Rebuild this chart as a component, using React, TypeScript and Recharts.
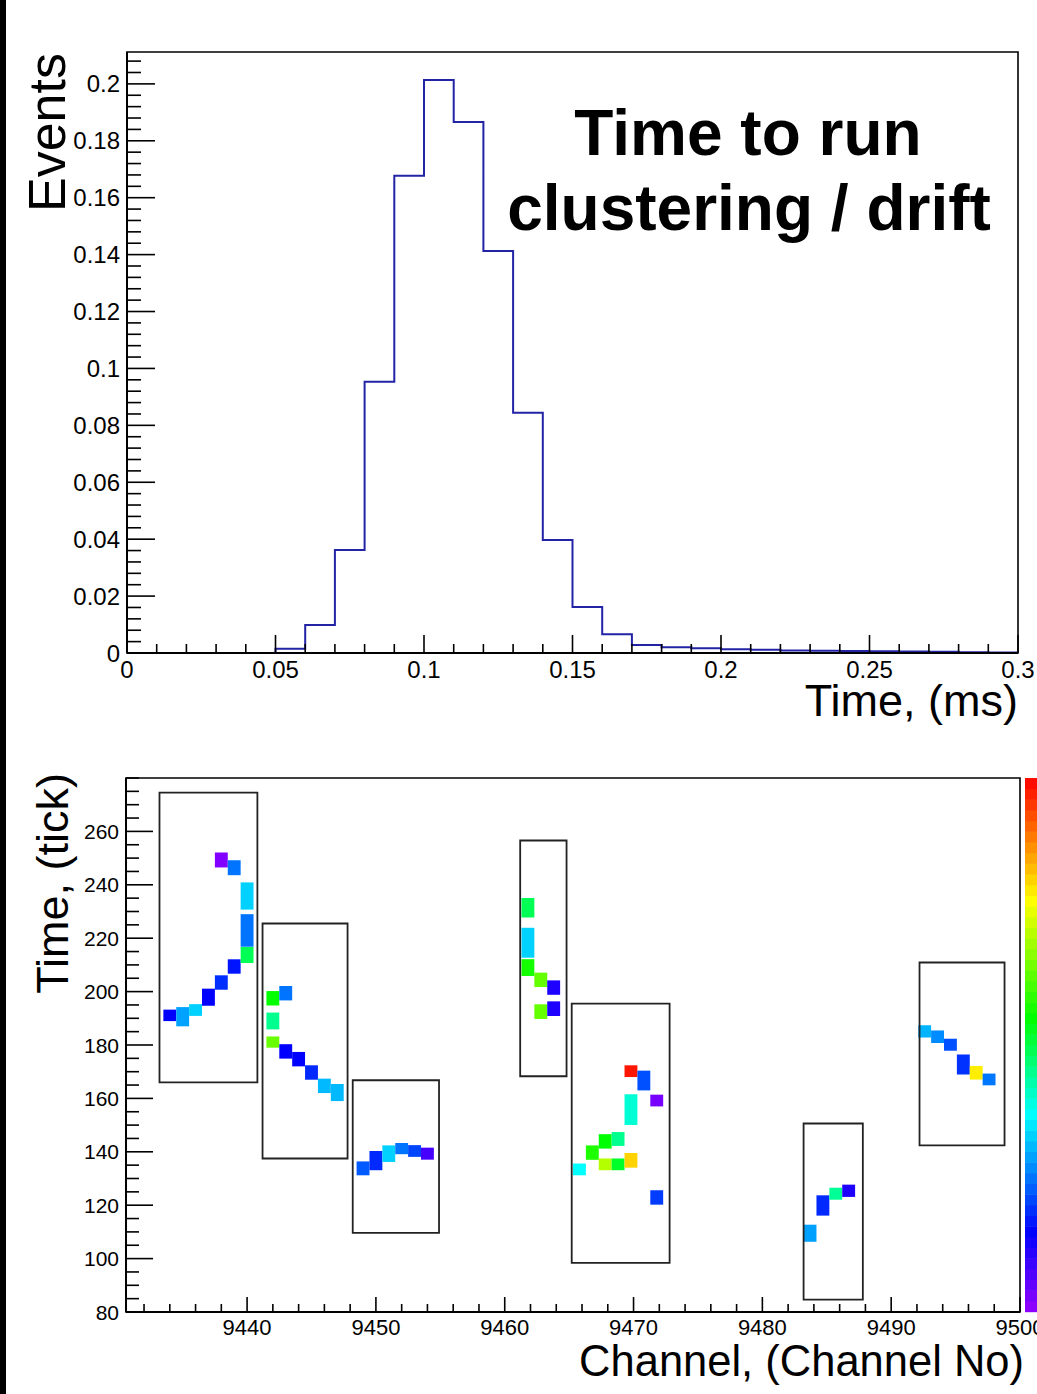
import React from 'react'
import { ComposedChart, ScatterChart, Line, Scatter, XAxis, YAxis, ReferenceArea } from 'recharts'

const FONT = '"Liberation Sans", Arial, Helvetica, sans-serif'

// ---- top panel: time to run clustering / drift (fraction of events per 0.01 ms bin)
const binWidthMs = 0.01
const eventFraction = [
  0, 0, 0, 0, 0,
  0.0015, 0.0098, 0.0362, 0.0953, 0.1677,
  0.2014, 0.1866, 0.1413, 0.0844, 0.0397,
  0.0162, 0.0066, 0.0028, 0.0020, 0.0017,
  0.0013, 0.0011, 0.0009, 0.0008, 0.0007,
  0.0006, 0.0005, 0.0004, 0.0003, 0.0002,
]
const timeMsMajor = [0, 0.05, 0.1, 0.15, 0.2, 0.25, 0.3]
const eventsMajor = [0, 0.02, 0.04, 0.06, 0.08, 0.1, 0.12, 0.14, 0.16, 0.18, 0.2]

// ---- bottom panel: hits [channel, time tick, time extent, charge (0..1 of palette)]
const cluster1 = [
  [9434, 191.1, 4.3, 0.15], [9435, 190.6, 7.2, 0.29], [9436, 193.1, 4.4, 0.33],
  [9437, 197.9, 6.4, 0.15], [9438, 203.4, 5.4, 0.19], [9439, 209.4, 5.4, 0.167],
  [9440, 213.7, 6.0, 0.49], [9440, 222.9, 12.2, 0.25], [9440, 235.8, 10.2, 0.33],
  [9438, 249.3, 5.6, 0.02], [9439, 246.4, 5.6, 0.25],
]
const cluster2 = [
  [9442, 197.5, 5.4, 0.55], [9443, 199.4, 5.4, 0.25], [9442, 189.0, 6.3, 0.45],
  [9442, 181.1, 4.2, 0.64], [9443, 177.6, 5.4, 0.15], [9444, 174.7, 5.4, 0.15],
  [9445, 169.7, 5.4, 0.185], [9446, 164.7, 5.4, 0.31], [9447, 162.2, 6.4, 0.31],
]
const cluster3 = [
  [9449, 133.8, 5.2, 0.228], [9450, 136.7, 7.2, 0.185], [9451, 139.3, 6.2, 0.33],
  [9452, 141.2, 4.2, 0.25], [9453, 140.3, 4.4, 0.21], [9454, 139.3, 4.5, 0.08],
]
const cluster4 = [
  [9461.8, 231.4, 7.3, 0.49], [9461.8, 218.3, 11.2, 0.33], [9461.8, 209.0, 6.3, 0.567],
  [9462.8, 204.4, 5.4, 0.636], [9463.8, 201.5, 5.4, 0.12], [9462.8, 192.5, 5.5, 0.636],
  [9463.8, 193.6, 5.5, 0.12],
]
const cluster5 = [
  [9465.8, 133.4, 4.4, 0.37], [9466.8, 139.7, 5.4, 0.576], [9467.8, 143.9, 5.4, 0.55],
  [9468.8, 144.8, 5.2, 0.45], [9467.8, 135.3, 4.4, 0.705], [9468.8, 135.3, 4.4, 0.522],
  [9469.8, 136.8, 5.5, 0.81], [9469.8, 155.8, 11.5, 0.40], [9469.8, 170.2, 4.4, 0.98],
  [9470.8, 166.7, 7.4, 0.219], [9471.8, 159.2, 4.4, 0.03], [9471.8, 122.9, 5.4, 0.202],
]
const cluster6 = [
  [9483.7, 109.5, 6.4, 0.288], [9484.7, 119.9, 7.6, 0.185], [9485.7, 124.3, 4.5, 0.444],
  [9486.7, 125.4, 4.6, 0.12],
]
const cluster7 = [
  [9492.6, 185.1, 4.6, 0.305], [9493.6, 183.1, 4.7, 0.271], [9494.6, 180.1, 4.5, 0.219],
  [9495.6, 172.7, 7.5, 0.193], [9496.6, 169.6, 5.1, 0.785], [9497.6, 167.1, 4.4, 0.253],
]
// cluster boxes [ch from, ch to, tick from, tick to]
const clusterBoxes = [
  [9433.2, 9440.8, 166.0, 274.5],
  [9441.2, 9447.8, 137.5, 225.5],
  [9448.2, 9454.9, 109.6, 166.8],
  [9461.2, 9464.8, 168.3, 256.6],
  [9465.2, 9472.8, 98.4, 195.5],
  [9483.2, 9487.8, 84.6, 150.6],
  [9492.2, 9498.8, 142.4, 210.9],
]
const channelMajor = [9440, 9450, 9460, 9470, 9480, 9490, 9500]
const tickMajor = [80, 100, 120, 140, 160, 180, 200, 220, 240, 260]

const allHits = [...cluster1, ...cluster2, ...cluster3, ...cluster4, ...cluster5, ...cluster6, ...cluster7]
const hitData = allHits.map(([ch, t, h, q]) => ({ ch, t, h, q }))
const histData = [
  ...eventFraction.map((v, i) => ({ t: +(i * binWidthMs).toFixed(3), v })),
  { t: 0.3, v: eventFraction[eventFraction.length - 1] },
]

// palette: purple -> blue -> cyan -> green -> yellow -> red
const stops: [number, number, number, number][] = [
  [0, 150, 0, 255], [0.15, 0, 0, 255], [0.37, 0, 255, 255],
  [0.55, 0, 255, 0], [0.77, 255, 255, 0], [1, 255, 0, 0],
]
function paletteColor(q: number) {
  const v = Math.max(0, Math.min(1, q))
  for (let i = 1; i < stops.length; i++) {
    if (v <= stops[i][0]) {
      const a = stops[i - 1], b = stops[i]
      const f = (v - a[0]) / (b[0] - a[0])
      const c = [1, 2, 3].map(k => Math.round(a[k] + (b[k] - a[k]) * f))
      return `rgb(${c[0]},${c[1]},${c[2]})`
    }
  }
  return 'rgb(255,0,0)'
}

function range(a: number, b: number, s: number) {
  const out: number[] = []
  for (let v = a; v <= b + s * 1e-6; v += s) out.push(+v.toFixed(4))
  return out
}
const isIn = (list: number[], v: number) => list.some(m => Math.abs(m - v) < 1e-6)
const fmt = (v: number) => String(+v.toFixed(4))

// ROOT style ticks: drawn inward, labels outside
function yTick(left: number, majors: number[], majLen: number, minLen: number, fontSize: number) {
  return (props: any) => {
    const { y, payload } = props
    const major = isIn(majors, payload.value)
    return (
      <g>
        <line x1={left} x2={left + (major ? majLen : minLen)} y1={y} y2={y} stroke="#000" strokeWidth={1.6} />
        {major && (
          <text x={left - 7} y={y} textAnchor="end" dominantBaseline="central" fontSize={fontSize} fontFamily={FONT} fill="#000">
            {fmt(payload.value)}
          </text>
        )}
      </g>
    )
  }
}
function xTick(bottom: number, majors: number[], majLen: number, minLen: number, fontSize: number, dy: number) {
  return (props: any) => {
    const { x, payload } = props
    const major = isIn(majors, payload.value)
    return (
      <g>
        <line x1={x} x2={x} y1={bottom} y2={bottom - (major ? majLen : minLen)} stroke="#000" strokeWidth={1.6} />
        {major && (
          <text x={x} y={bottom + dy} textAnchor="middle" fontSize={fontSize} fontFamily={FONT} fill="#000">
            {fmt(payload.value)}
          </text>
        )}
      </g>
    )
  }
}

const EV_MAX = 0.2112
const CH_MIN = 9430.6
const CH_MAX = 9500

export default function App() {
  const bands = range(0, 49, 1)
  const cbTop = 778, cbBottom = 1311.7
  const bandH = (cbBottom - cbTop) / bands.length
  return (
    <div style={{ position: 'absolute', left: 0, top: 0, width: 1037, height: 1394, background: '#fff', fontFamily: FONT, overflow: 'hidden' }}>
      <div style={{ position: 'absolute', left: 0, top: 0 }}>
        <ComposedChart width={1037} height={740} data={histData} margin={{ top: 52, right: 19, bottom: 0, left: 0 }}>
          <XAxis dataKey="t" type="number" domain={[0, 0.3]} allowDataOverflow ticks={range(0, 0.3, 0.01)} interval={0}
            tickLine={false} axisLine={{ stroke: '#000', strokeWidth: 2 }} height={87}
            tick={xTick(653, timeMsMajor, 18, 9, 24, 25)} />
          <YAxis type="number" domain={[0, EV_MAX]} allowDataOverflow ticks={range(0, 0.208, 0.004)} interval={0}
            tickLine={false} axisLine={{ stroke: '#000', strokeWidth: 2 }} width={127}
            tick={yTick(127, eventsMajor, 28, 14, 24)} />
          <ReferenceArea x1={0} x2={0.3} y1={0} y2={EV_MAX} fill="none" stroke="#000" strokeWidth={1.6} ifOverflow="visible" />
          <Line type="stepAfter" dataKey="v" stroke="#2323a6" strokeWidth={2} dot={false} isAnimationActive={false} />
        </ComposedChart>
      </div>
      <div style={{ position: 'absolute', left: 0, top: 740 }}>
        <ScatterChart width={1037} height={654} margin={{ top: 38, right: 17, bottom: 0, left: 0 }}>
          <XAxis dataKey="ch" type="number" domain={[CH_MIN, CH_MAX]} allowDataOverflow ticks={range(9432, 9500, 2)} interval={0}
            tickLine={false} axisLine={{ stroke: '#000', strokeWidth: 2 }} height={82}
            tick={xTick(572, channelMajor, 15, 8, 22, 23)} />
          <YAxis dataKey="t" type="number" domain={[80, 280]} allowDataOverflow ticks={range(80, 280, 5)} interval={0}
            tickLine={false} axisLine={{ stroke: '#000', strokeWidth: 2 }} width={126}
            tick={yTick(126, tickMajor, 27, 13, 21)} />
          {hitData.map((d, i) => (
            <ReferenceArea key={`hit-${i}`} x1={d.ch - 0.5} x2={d.ch + 0.5} y1={d.t - d.h / 2} y2={d.t + d.h / 2}
              fill={paletteColor(d.q)} fillOpacity={1} stroke="none" ifOverflow="visible" />
          ))}
          {clusterBoxes.map((b, i) => (
            <ReferenceArea key={`box-${i}`} x1={b[0]} x2={b[1]} y1={b[2]} y2={b[3]}
              fill="none" stroke="#222" strokeWidth={1.8} ifOverflow="visible" />
          ))}
          <ReferenceArea x1={CH_MIN} x2={CH_MAX} y1={80} y2={280} fill="none" stroke="#000" strokeWidth={1.6} ifOverflow="visible" />
          <Scatter data={hitData} dataKey="t" isAnimationActive={false} shape={() => <g />} />
        </ScatterChart>
      </div>
      <svg width={1037} height={1394} style={{ position: 'absolute', left: 0, top: 0, pointerEvents: 'none' }}>
        <rect x={0} y={0} width={6} height={1394} fill="#000" />
        <text x={748} y={155} textAnchor="middle" fontSize={64} fontWeight="bold" fontFamily={FONT}>Time to run</text>
        <text x={749} y={230} textAnchor="middle" fontSize={64} fontWeight="bold" fontFamily={FONT}>clustering / drift</text>
        <text x={65} y={53} textAnchor="end" fontSize={52} fontFamily={FONT} transform="rotate(-90 65 53)">Events</text>
        <text x={1018} y={716} textAnchor="end" fontSize={45} fontFamily={FONT}>Time, (ms)</text>
        <text x={68} y={773} textAnchor="end" fontSize={45} fontFamily={FONT} transform="rotate(-90 68 773)">Time, (tick)</text>
        <text x={1024} y={1376} textAnchor="end" fontSize={43.5} fontFamily={FONT}>Channel, (Channel No)</text>
        {bands.map(b => (
          <rect key={b} x={1025} y={cbBottom - (b + 1) * bandH} width={12} height={bandH + 0.5} fill={paletteColor((b + 0.5) / bands.length)} />
        ))}
      </svg>
    </div>
  )
}
